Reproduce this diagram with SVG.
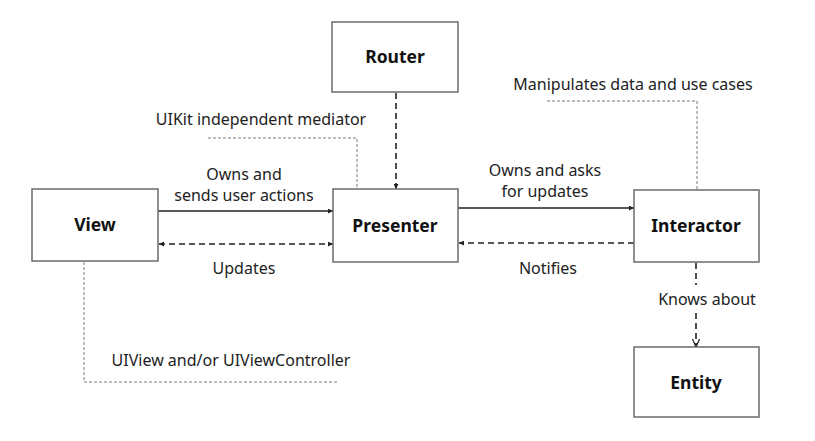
<svg xmlns="http://www.w3.org/2000/svg" width="815" height="441" viewBox="0 0 815 441">
<style>
.box{fill:#fff;stroke:#6b6b6b;stroke-width:1.5}
.nl{font-family:"Noto Sans","Open Sans",sans-serif;font-weight:bold;font-size:17.5px;fill:#111;text-anchor:middle}
.t{font-family:"Noto Sans","Open Sans",sans-serif;font-size:16px;fill:#222}
.solid{stroke:#222;stroke-width:1.6;fill:none}
.dash{stroke:#222;stroke-width:1.6;fill:none;stroke-dasharray:6 4}
.dot{stroke:#7a7a7a;stroke-width:1;fill:none;stroke-dasharray:3 2}
</style>
<defs>
<marker id="ah" viewBox="0 0 10 10" refX="10" refY="5" markerWidth="5" markerHeight="5" orient="auto-start-reverse" markerUnits="userSpaceOnUse"><path d="M0,0 L10,5 L0,10 z" fill="#222"/></marker>
<marker id="open" viewBox="0 0 10 10" refX="10" refY="5" markerWidth="9" markerHeight="9" orient="auto" markerUnits="userSpaceOnUse"><path d="M1,1 L10,5 L1,9" fill="none" stroke="#222" stroke-width="1.4"/></marker>
</defs>
<rect width="815" height="441" fill="#fff"/>
<g id="connectors">
<line class="solid" x1="158" y1="211" x2="333" y2="211" marker-end="url(#ah)"/>
<line class="dash" x1="159" y1="244" x2="333" y2="244" marker-start="url(#ah)" marker-end="url(#ah)"/>
<line class="solid" x1="458" y1="208" x2="634" y2="208" marker-end="url(#ah)"/>
<line class="dash" x1="634" y1="243" x2="459" y2="243" marker-end="url(#ah)"/>
<line class="dash" x1="396" y1="93" x2="396" y2="189" marker-end="url(#ah)"/>
<line class="dash" x1="696" y1="263" x2="696" y2="285"/>
<line class="dash" x1="696" y1="313" x2="696" y2="347" marker-end="url(#open)"/>
<polyline class="dot" points="208,138 357,138 357,189"/>
<polyline class="dot" points="547,101 697,101 697,190"/>
<polyline class="dot" points="84,262 84,382 337,382"/>
<text class="t" x="244" y="180" text-anchor="middle">Owns and</text>
<text class="t" x="244" y="201" text-anchor="middle">sends user actions</text>
<text class="t" x="244" y="274" text-anchor="middle">Updates</text>
<text class="t" x="545" y="176" text-anchor="middle">Owns and asks</text>
<text class="t" x="545" y="197" text-anchor="middle">for updates</text>
<text class="t" x="548" y="274" text-anchor="middle">Notifies</text>
<text class="t" x="707" y="305" text-anchor="middle">Knows about</text>
<text class="t" x="261" y="125" text-anchor="middle">UIKit independent mediator</text>
<text class="t" x="633" y="90" text-anchor="middle">Manipulates data and use cases</text>
<text class="t" x="231" y="366" text-anchor="middle">UIView and/or UIViewController</text>
</g>
<g id="router"><rect class="box" x="332" y="22" width="126" height="70"/><text class="nl" x="395" y="63">Router</text></g>
<g id="view"><rect class="box" x="32" y="189" width="126" height="72"/><text class="nl" x="95" y="231">View</text></g>
<g id="presenter"><rect class="box" x="333" y="189" width="125" height="73"/><text class="nl" x="395" y="232">Presenter</text></g>
<g id="interactor"><rect class="box" x="634" y="190" width="125" height="72"/><text class="nl" x="696" y="232">Interactor</text></g>
<g id="entity"><rect class="box" x="634" y="347" width="125" height="70"/><text class="nl" x="696" y="389">Entity</text></g>
</svg>
